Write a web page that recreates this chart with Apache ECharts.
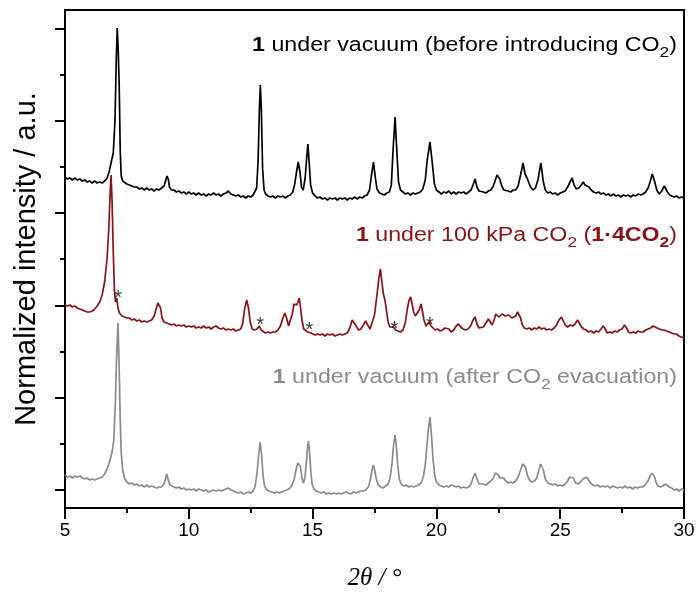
<!DOCTYPE html>
<html><head><meta charset="utf-8">
<script src="https://cdn.jsdelivr.net/npm/echarts@6.0.0/dist/echarts.min.js"></script>
<style>html,body{margin:0;padding:0;background:#fff}#c{width:697px;height:593px}</style>
</head><body><div id="c"></div>
<script>
// 2θ (deg), intensity (a.u., as plotted with stacking offsets)
const patternBefore = [[5.0,313],[5.1,311],[5.2,312],[5.3,310],[5.4,312],[5.5,310],[5.6,311],[5.7,309],[5.8,310],[5.9,308],[6.0,309],[6.1,307],[6.2,309],[6.3,307],[6.4,308],[6.5,307],[6.6,309],[6.7,312],[6.78,318],[6.86,327],[6.95,337],[7.02,370],[7.07,430],[7.11,462],[7.15,440],[7.19,403],[7.23,340],[7.27,314],[7.33,309],[7.4,307],[7.5,306],[7.6,305],[7.7,304],[7.8,303],[7.9,303],[8.0,301],[8.1,302],[8.2,300],[8.3,302],[8.4,300],[8.5,301],[8.6,299],[8.7,301],[8.8,300],[8.9,302],[9.0,304],[9.06,309],[9.12,314],[9.17,311],[9.22,303],[9.3,300],[9.4,300],[9.5,298],[9.6,299],[9.7,297],[9.8,298],[9.9,296],[10.0,298],[10.1,296],[10.2,297],[10.3,295],[10.4,297],[10.5,295],[10.6,296],[10.7,294],[10.8,296],[10.9,295],[11.0,297],[11.1,295],[11.2,296],[11.3,294],[11.4,296],[11.5,297],[11.6,299],[11.7,296],[11.8,295],[11.9,294],[12.0,295],[12.1,293],[12.2,294],[12.3,292],[12.4,294],[12.5,293],[12.6,295],[12.68,296],[12.74,302],[12.8,330],[12.85,380],[12.89,405],[12.93,380],[12.98,322],[13.04,300],[13.1,296],[13.2,294],[13.3,293],[13.4,294],[13.5,292],[13.6,294],[13.7,293],[13.8,294],[13.9,292],[14.0,294],[14.1,295],[14.2,298],[14.28,306],[14.35,318],[14.42,328],[14.49,318],[14.55,303],[14.62,300],[14.7,312],[14.77,335],[14.81,346],[14.86,328],[14.92,305],[15.0,297],[15.1,294],[15.2,292],[15.3,293],[15.4,291],[15.5,292],[15.6,290],[15.7,292],[15.8,291],[15.9,292],[16.0,290],[16.1,292],[16.2,291],[16.3,292],[16.4,290],[16.5,292],[16.6,291],[16.7,293],[16.8,291],[16.9,293],[17.0,292],[17.1,294],[17.2,295],[17.3,300],[17.38,315],[17.46,328],[17.53,313],[17.6,301],[17.7,297],[17.8,296],[17.9,295],[18.0,297],[18.1,298],[18.18,305],[18.25,340],[18.33,373],[18.4,340],[18.47,308],[18.55,300],[18.65,298],[18.75,296],[18.85,297],[18.95,295],[19.05,297],[19.15,296],[19.25,297],[19.35,298],[19.45,301],[19.55,310],[19.63,330],[19.74,348],[19.83,328],[19.92,306],[20.0,300],[20.1,298],[20.2,296],[20.3,298],[20.4,297],[20.5,299],[20.6,296],[20.7,298],[20.8,296],[20.9,298],[21.0,297],[21.1,298],[21.2,296],[21.3,298],[21.4,300],[21.48,305],[21.56,311],[21.64,303],[21.72,299],[21.8,297],[21.9,298],[22.0,297],[22.1,299],[22.2,300],[22.3,304],[22.38,310],[22.45,315],[22.5,317],[22.56,311],[22.64,304],[22.72,300],[22.8,298],[22.9,299],[23.0,298],[23.1,300],[23.2,300],[23.3,304],[23.4,315],[23.5,327],[23.58,316],[23.66,312],[23.72,312],[23.8,303],[23.9,300],[24.0,302],[24.1,310],[24.22,327],[24.32,308],[24.4,300],[24.5,297],[24.6,298],[24.7,296],[24.8,297],[24.9,295],[25.0,297],[25.1,298],[25.2,299],[25.3,303],[25.4,308],[25.48,312],[25.56,305],[25.65,301],[25.75,302],[25.85,305],[25.93,308],[26.0,305],[26.08,307],[26.16,303],[26.25,300],[26.35,298],[26.45,297],[26.55,298],[26.65,296],[26.75,297],[26.85,295],[26.95,296],[27.05,294],[27.15,296],[27.25,294],[27.35,295],[27.45,293],[27.55,295],[27.65,294],[27.75,295],[27.85,293],[27.95,295],[28.05,294],[28.15,296],[28.25,295],[28.35,296],[28.45,298],[28.55,302],[28.63,308],[28.72,316],[28.76,317],[28.82,308],[28.9,300],[29.0,296],[29.1,299],[29.2,304],[29.25,305],[29.33,298],[29.42,295],[29.5,294],[29.6,293],[29.7,294],[29.8,292],[29.9,293],[30.0,292]];

const patternCO2 = [[5.0,185],[5.1,184],[5.2,185],[5.3,183],[5.4,184],[5.5,182],[5.6,181],[5.7,180],[5.8,179],[5.9,178],[6.0,178],[6.1,179],[6.2,181],[6.3,184],[6.4,188],[6.5,195],[6.6,208],[6.7,232],[6.77,262],[6.82,295],[6.86,315],[6.9,290],[6.95,237],[7.0,198],[7.04,188],[7.09,192],[7.14,182],[7.2,177],[7.3,174],[7.4,173],[7.5,172],[7.6,172],[7.7,170],[7.8,171],[7.9,169],[8.0,170],[8.1,168],[8.2,169],[8.3,168],[8.4,169],[8.5,170],[8.6,174],[8.68,181],[8.75,187],[8.8,188],[8.86,182],[8.92,172],[9.0,168],[9.1,167],[9.2,166],[9.3,165],[9.4,166],[9.5,164],[9.6,165],[9.7,164],[9.8,165],[9.9,163],[10.0,164],[10.1,163],[10.2,164],[10.3,162],[10.4,163],[10.5,162],[10.6,164],[10.7,162],[10.8,163],[10.9,161],[11.0,163],[11.1,164],[11.2,162],[11.3,161],[11.4,162],[11.5,160],[11.6,161],[11.7,160],[11.8,161],[11.9,159],[12.0,160],[12.1,161],[12.18,167],[12.26,182],[12.34,190],[12.41,182],[12.48,168],[12.56,161],[12.65,160],[12.75,161],[12.85,164],[12.92,160],[13.0,158],[13.1,157],[13.2,158],[13.3,157],[13.4,158],[13.5,158],[13.6,160],[13.7,164],[13.8,172],[13.88,177],[13.95,172],[14.03,164],[14.1,165],[14.18,176],[14.25,186],[14.3,188],[14.36,185],[14.41,188],[14.46,192],[14.51,183],[14.57,170],[14.64,161],[14.72,159],[14.8,158],[14.86,160],[14.93,157],[15.0,156],[15.1,155],[15.2,156],[15.3,155],[15.4,156],[15.5,154],[15.6,156],[15.7,155],[15.8,156],[15.9,154],[16.0,155],[16.1,156],[16.2,155],[16.3,156],[16.4,157],[16.5,162],[16.6,170],[16.68,172],[16.76,164],[16.85,160],[16.95,161],[17.05,165],[17.14,169],[17.22,165],[17.32,161],[17.4,163],[17.5,175],[17.6,195],[17.68,212],[17.74,221],[17.8,208],[17.86,196],[17.92,190],[17.98,180],[18.05,168],[18.12,163],[18.2,162],[18.27,163],[18.35,160],[18.45,159],[18.55,158],[18.65,160],[18.75,168],[18.83,182],[18.9,190],[18.96,193],[19.02,186],[19.08,178],[19.15,174],[19.22,175],[19.3,180],[19.38,186],[19.43,184],[19.5,170],[19.58,164],[19.65,165],[19.71,168],[19.78,164],[19.86,162],[19.95,160],[20.05,161],[20.15,159],[20.25,160],[20.35,162],[20.43,164],[20.5,161],[20.6,158],[20.7,160],[20.8,164],[20.89,166],[20.98,163],[21.08,161],[21.18,160],[21.28,161],[21.38,164],[21.48,170],[21.56,173],[21.64,166],[21.72,162],[21.8,161],[21.9,163],[22.0,167],[22.1,171],[22.18,168],[22.25,165],[22.33,170],[22.4,176],[22.46,177],[22.52,173],[22.58,172],[22.65,176],[22.71,178],[22.78,174],[22.85,172],[22.92,175],[22.98,176],[23.05,172],[23.12,170],[23.2,174],[23.28,178],[23.33,178],[23.4,172],[23.47,165],[23.55,162],[23.65,161],[23.75,162],[23.85,160],[23.95,162],[24.05,161],[24.15,163],[24.25,161],[24.35,162],[24.45,160],[24.55,161],[24.65,160],[24.75,162],[24.85,165],[24.95,170],[25.05,173],[25.12,171],[25.2,165],[25.3,163],[25.4,165],[25.5,164],[25.6,166],[25.7,170],[25.78,168],[25.86,163],[25.95,161],[26.05,160],[26.15,158],[26.25,159],[26.35,157],[26.45,159],[26.55,158],[26.65,161],[26.74,164],[26.82,161],[26.9,157],[27.0,158],[27.1,157],[27.2,159],[27.3,158],[27.4,160],[27.5,161],[27.6,165],[27.68,162],[27.76,158],[27.85,157],[27.95,158],[28.05,157],[28.15,159],[28.25,158],[28.35,158],[28.45,160],[28.55,161],[28.65,162],[28.75,164],[28.83,164],[28.92,162],[29.0,161],[29.1,160],[29.2,160],[29.3,159],[29.4,158],[29.5,157],[29.6,156],[29.7,156],[29.8,154],[29.9,153],[30.0,152]];

const patternAfter = [[5.0,15],[5.1,13],[5.2,14],[5.3,12],[5.4,14],[5.5,13],[5.6,14],[5.7,12],[5.8,11],[5.9,12],[6.0,10],[6.1,11],[6.2,10],[6.3,11],[6.4,12],[6.5,13],[6.6,16],[6.7,21],[6.8,28],[6.9,38],[6.97,50],[7.03,85],[7.08,130],[7.14,167],[7.19,120],[7.23,70],[7.27,38],[7.32,22],[7.4,12],[7.5,8],[7.6,6],[7.7,7],[7.8,5],[7.9,6],[8.0,4],[8.1,5],[8.2,3],[8.3,5],[8.4,3],[8.5,4],[8.6,3],[8.7,2],[8.8,3],[8.9,3],[9.0,6],[9.06,11],[9.11,16],[9.16,11],[9.24,5],[9.3,4],[9.4,3],[9.5,2],[9.6,3],[9.7,1],[9.8,2],[9.9,0],[10.0,1],[10.1,0],[10.2,1],[10.3,-1],[10.4,1],[10.5,0],[10.6,-1],[10.7,0],[10.8,-2],[10.9,-1],[11.0,0],[11.1,-1],[11.2,0],[11.3,-1],[11.4,0],[11.5,1],[11.6,2],[11.7,0],[11.8,-1],[11.9,-2],[12.0,-3],[12.1,-2],[12.2,-4],[12.3,-3],[12.4,-2],[12.5,-3],[12.6,-1],[12.68,4],[12.76,18],[12.82,35],[12.88,48],[12.94,35],[13.0,14],[13.06,4],[13.15,0],[13.25,-1],[13.35,-2],[13.45,-3],[13.55,-2],[13.65,-3],[13.75,-2],[13.85,-1],[13.95,0],[14.05,1],[14.15,4],[14.25,10],[14.33,20],[14.4,27],[14.45,29],[14.5,24],[14.57,12],[14.63,7],[14.69,12],[14.75,28],[14.8,44],[14.83,49],[14.87,40],[14.93,18],[14.98,6],[15.05,1],[15.15,-1],[15.25,-2],[15.35,-3],[15.45,-2],[15.55,-4],[15.65,-3],[15.75,-4],[15.85,-3],[15.95,-4],[16.05,-3],[16.15,-4],[16.25,-3],[16.35,-2],[16.45,-3],[16.55,-4],[16.65,-2],[16.75,-3],[16.85,-2],[16.95,-1],[17.05,-1],[17.15,0],[17.25,3],[17.33,10],[17.4,20],[17.45,25],[17.5,21],[17.57,11],[17.65,5],[17.75,3],[17.85,2],[17.95,4],[18.05,6],[18.13,12],[18.2,25],[18.27,45],[18.33,55],[18.38,45],[18.44,24],[18.5,11],[18.58,6],[18.68,4],[18.78,5],[18.88,3],[18.98,4],[19.08,3],[19.18,4],[19.28,5],[19.38,7],[19.47,13],[19.55,25],[19.62,45],[19.68,62],[19.74,73],[19.8,55],[19.86,32],[19.93,15],[20.0,8],[20.1,5],[20.2,4],[20.3,3],[20.4,4],[20.5,3],[20.6,5],[20.7,4],[20.8,3],[20.9,4],[21.0,2],[21.1,3],[21.2,2],[21.3,3],[21.4,6],[21.48,12],[21.56,17],[21.63,12],[21.72,6],[21.8,5],[21.9,6],[22.0,5],[22.1,7],[22.2,9],[22.3,12],[22.38,17],[22.44,19],[22.5,15],[22.57,12],[22.65,13],[22.72,12],[22.8,9],[22.9,7],[23.0,8],[23.1,7],[23.2,9],[23.3,13],[23.4,20],[23.48,26],[23.54,28],[23.6,23],[23.68,14],[23.76,10],[23.86,8],[23.96,9],[24.05,12],[24.14,20],[24.21,26],[24.26,27],[24.32,20],[24.4,11],[24.5,7],[24.6,6],[24.7,5],[24.8,6],[24.9,4],[25.0,5],[25.1,4],[25.2,6],[25.3,9],[25.38,13],[25.46,15],[25.53,12],[25.62,7],[25.72,6],[25.82,8],[25.92,11],[26.0,13],[26.07,13],[26.14,11],[26.22,7],[26.32,5],[26.42,4],[26.52,5],[26.62,3],[26.72,4],[26.82,3],[26.92,4],[27.02,2],[27.12,4],[27.22,3],[27.32,2],[27.42,3],[27.52,2],[27.62,4],[27.72,2],[27.82,3],[27.92,1],[28.02,3],[28.12,2],[28.22,3],[28.32,3],[28.42,5],[28.52,8],[28.6,12],[28.68,17],[28.74,19],[28.8,14],[28.88,7],[28.96,4],[29.05,3],[29.15,4],[29.25,6],[29.32,6],[29.4,3],[29.5,2],[29.6,0],[29.7,1],[29.8,-1],[29.9,1],[30.0,0]];

// asterisks marking residual peaks of the empty phase in the CO2 pattern
const starX = [7.15, 12.88, 14.87, 18.30, 19.74];
const starY = [197, 170, 165, 166, 170];

const xTickValues = [5, 10, 15, 20, 25, 30];
const yMajorTicks = [0, 92.3, 184.6, 276.9, 369.2, 461.5];
const yMinorTicks = [46.2, 138.5, 230.8, 323.1, 415.4];

const FONT = "'Liberation Sans', Arial, Helvetica, sans-serif";
const BLACK = '#000000', RED = '#8a1212', GRAY = '#8a8a8a';

const chart = echarts.init(document.getElementById('c'), null, {renderer: 'canvas'});

function labelRich(color) {
  return {
    b: {fontWeight: 'bold', fontSize: 20, fontFamily: FONT, fill: color, lineHeight: 30},
    s: {fontSize: 15, fontFamily: FONT, fill: color, lineHeight: 15, verticalAlign: 'bottom'},
    bs: {fontWeight: 'bold', fontSize: 15, fontFamily: FONT, fill: color, lineHeight: 15, verticalAlign: 'bottom'}
  };
}
function textEl(txt, x, y, color) {
  return {
    type: 'text', x: x, y: y, scaleX: 1.16, z: 10,
    style: {
      text: txt, align: 'right', verticalAlign: 'middle',
      fontSize: 20, fontFamily: FONT, fill: color, lineHeight: 30,
      rich: labelRich(color)
    }
  };
}

const option = {
  animation: false,
  backgroundColor: '#fff',
  grid: {left: 65, right: 13, top: 10, bottom: 85, containLabel: false, outerBoundsMode: 'none',
    show: true, borderColor: '#000', borderWidth: 2, backgroundColor: 'transparent'},
  xAxis: {
    type: 'value', min: xTickValues[0], max: xTickValues[xTickValues.length - 1], interval: 5,
    axisLine: {onZero: false, lineStyle: {color: '#000', width: 2}},
    axisTick: {length: 11, lineStyle: {color: '#000', width: 2}},
    minorTick: {show: true, splitNumber: 2, length: 5, lineStyle: {color: '#000', width: 2}},
    splitLine: {show: false},
    axisLabel: {fontSize: 19, color: '#000', fontFamily: FONT, margin: 13},
    name: '2θ / °', nameLocation: 'middle', nameGap: 58,
    nameTextStyle: {fontFamily: "'Liberation Serif', 'Times New Roman', serif", fontStyle: 'italic', fontSize: 25, color: '#000'}
  },
  yAxis: [{
    type: 'value', min: -18, max: 480,
    axisLine: {show: true, onZero: false, lineStyle: {color: '#000', width: 2}},
    axisTick: {show: true, length: 10, customValues: yMajorTicks, lineStyle: {color: '#000', width: 2}},
    axisLabel: {show: false},
    splitLine: {show: false},
    name: 'Normalized intensity / a.u.', nameLocation: 'middle', nameGap: 24,
    nameTextStyle: {fontSize: 29, color: '#000', fontFamily: FONT}
  }, {
    type: 'value', min: -18, max: 480, position: 'left', offset: 0,
    axisLine: {show: false},
    axisTick: {show: true, length: 5, customValues: yMinorTicks, lineStyle: {color: '#000', width: 2}},
    axisLabel: {show: false},
    splitLine: {show: false}
  }],
  graphic: [
    textEl('{b|1} under vacuum (before introducing CO{s|2})', 677, 45, BLACK),
    textEl('{b|1} under 100 kPa CO{s|2} ({b|1·4CO}{bs|2})', 677, 235, RED),
    textEl('{b|1} under vacuum (after CO{s|2} evacuation)', 677, 377, GRAY)
  ],
  series: [
    {type: 'line', data: patternBefore, showSymbol: false, symbol: 'none', lineStyle: {color: BLACK, width: 1.7}, itemStyle: {color: BLACK}, z: 3},
    {type: 'line', data: patternCO2, showSymbol: false, symbol: 'none', lineStyle: {color: RED, width: 1.7}, itemStyle: {color: RED}, z: 3},
    {type: 'line', data: patternAfter, showSymbol: false, symbol: 'none', lineStyle: {color: GRAY, width: 1.7}, itemStyle: {color: GRAY}, z: 3},
    {type: 'scatter', data: starX.map((x, i) => [x, starY[i]]), symbolSize: 0.01,
      itemStyle: {color: 'rgba(0,0,0,0)'}, z: 5,
      label: {show: true, formatter: '*', position: 'inside', fontSize: 20, color: '#000', fontFamily: FONT, offset: [0, 5]}}
  ]
};
chart.setOption(option);
</script>
</body></html>
